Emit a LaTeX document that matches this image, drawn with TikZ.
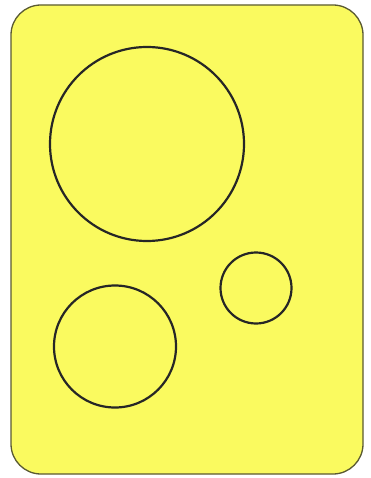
\documentclass[tikz,border=0pt]{standalone}
\definecolor{padyellow}{RGB}{250,250,95}
\definecolor{padedge}{RGB}{90,90,50}
\begin{document}
\begin{tikzpicture}[x=1pt,y=-1pt,
  hole/.style={draw=black!85, line width=2.2pt}]
\useasboundingbox (0,0) rectangle (370,478);
\draw[fill=padyellow, draw=padedge, line width=1.3pt, rounded corners=30pt] (11,5) rectangle (363,474);
\draw[hole] (147,144) circle[radius=97];
\draw[hole] (256,288) circle[radius=35.5];
\draw[hole] (115,346.5) circle[radius=61];
\end{tikzpicture}
\end{document}
